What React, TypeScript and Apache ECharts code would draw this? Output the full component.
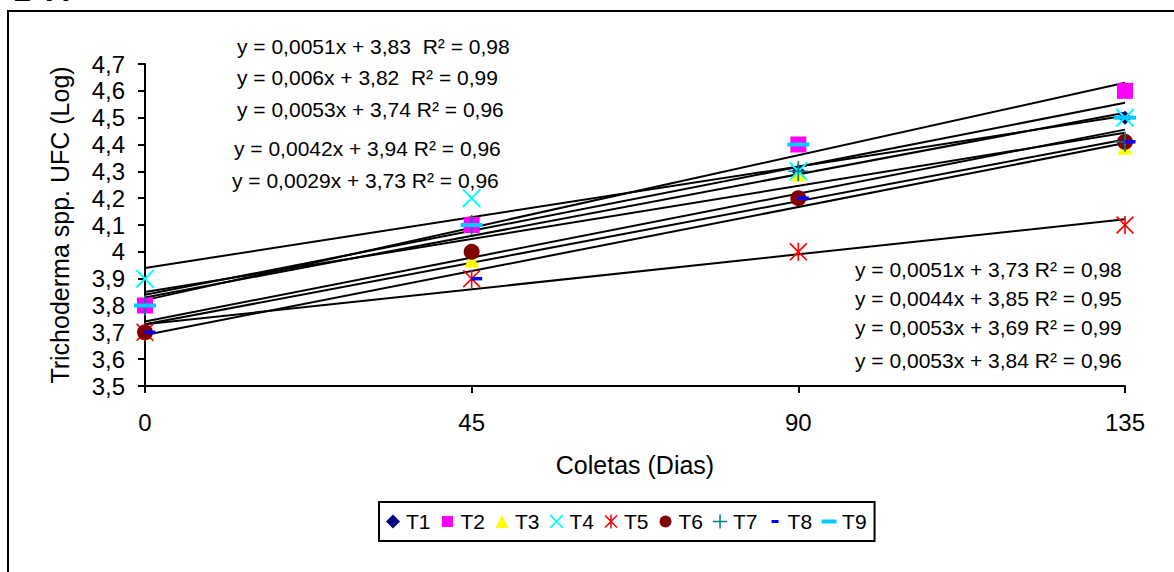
import React, { useEffect, useRef } from "react";
import * as echarts from "echarts";

// Sampling days (x) and log UFC counts for each treatment
const days = [0, 45, 90, 135];
const treatments = ["T1", "T2", "T3", "T4", "T5", "T6", "T7", "T8", "T9"];
const t1 = [3.8, 4.1, 4.3, 4.5];
const t2 = [3.8, 4.1, 4.4, 4.6];
const t3 = [3.7, 3.97, 4.29, 4.39];
const t4 = [3.9, 4.2, 4.3, 4.5];
const t5 = [3.7, 3.9, 4.0, 4.1];
const t6 = [3.7, 4.0, 4.2, 4.41];
const t7 = [3.8, 4.1, 4.3, 4.41];
const t8 = [3.7, 3.9, 4.2, 4.41];
const t9 = [3.8, 4.1, 4.4, 4.5];
const treatmentValues = [t1, t2, t3, t4, t5, t6, t7, t8, t9];

// Linear trendlines (y = a·x + b) and their R²
const trendSlopes = [0.0051, 0.006, 0.0053, 0.0042, 0.0029, 0.0051, 0.0044, 0.0053, 0.0053];
const trendIntercepts = [3.83, 3.82, 3.74, 3.94, 3.73, 3.73, 3.85, 3.69, 3.84];
const trendR2 = [0.98, 0.99, 0.96, 0.96, 0.96, 0.98, 0.95, 0.99, 0.96];

// Axis ranges
const yMin = 3.5;
const yMax = 4.7;
const yStep = 0.1;
const xMin = 0;
const xMax = 135;
const xStep = 45;

const FONT = "'Liberation Sans', Arial, sans-serif";

const colors = ["#000080", "#FF00FF", "#FFFF00", "#00FFFF", "#FF0000", "#800000", "#008080", "#0000FF", "#00CCFF"];

// Marker shapes drawn on the plot
const xMark = "path://M0,1.5L1.5,0L20,18.5L18.5,20Z M18.5,0L20,1.5L1.5,20L0,18.5Z";
const starMark = "path://M0,1.2L1.2,0L18,16.8L16.8,18Z M16.8,0L18,1.2L1.2,18L0,16.8Z M8.2,0H9.8V18H8.2Z";
const plusMark = "path://M9.25,0H10.75V20H9.25Z M1.5,9.25H18.5V10.75H1.5Z";

const markers: { symbol: string; size: number | number[]; offset?: number[] }[] = [
  { symbol: "diamond", size: 14 },
  { symbol: "rect", size: 16 },
  { symbol: "triangle", size: 15 },
  { symbol: xMark, size: 19 },
  { symbol: starMark, size: 18 },
  { symbol: "circle", size: 16 },
  { symbol: plusMark, size: 20 },
  { symbol: "rect", size: [11, 3.5], offset: [5, 0] },
  { symbol: "rect", size: [22, 4] },
];

// Legend icons, padded to a 16x16 box so each keeps its own size
const legendIcons = [
  "path://M0,0M16,16M8,1L15,8L8,15L1,8Z",
  "path://M0,0M16,16M2.5,2.5H13.5V13.5H2.5Z",
  "path://M0,0M16,16M8,1.5L14.5,14.5H1.5Z",
  "path://M0,0M16,16M1,2.3L2.3,1L15,13.7L13.7,15Z M13.7,1L15,2.3L2.3,15L1,13.7Z",
  "path://M0,0M16,16M1.5,2.6L2.6,1.5L14.5,13.4L13.4,14.5Z M13.4,1.5L14.5,2.6L2.6,14.5L1.5,13.4Z M7.25,1H8.75V15H7.25Z",
  "path://M0,0M16,16M2,8A6,6,0,1,1,14,8A6,6,0,1,1,2,8Z",
  "path://M0,0M16,16M7.25,1H8.75V15H7.25Z M1,7.25H15V8.75H1Z",
  "path://M0,0M16,16M5,6.5H12V9.5H5Z",
  "path://M0,0M16,16M0.5,6H15.5V10H0.5Z",
];

// Where each trendline equation is written (left x, middle y)
const equationSpots = [
  [237, 46], [237, 77], [237, 109], [234, 148], [232, 180],
  [855, 269], [855, 298], [855, 327], [855, 360],
];

const comma = (v: number) => String(v).replace(".", ",");

function equationText(i: number) {
  const gap = i < 2 ? "  " : " ";
  return `y = ${comma(trendSlopes[i])}x + ${comma(trendIntercepts[i])}${gap}R² = ${comma(trendR2[i])}`;
}

export default function App() {
  const ref = useRef<HTMLDivElement>(null);

  useEffect(() => {
    if (!ref.current) return;
    const chart = echarts.init(ref.current, undefined, { renderer: "svg" });

    const trendSeries = treatments.map((name, i) => ({
      name: name + " trend",
      type: "line",
      data: [
        [xMin, trendIntercepts[i]],
        [xMax, trendIntercepts[i] + trendSlopes[i] * xMax],
      ],
      symbol: "none",
      silent: true,
      z: 1,
      lineStyle: { color: "#000", width: 2 },
    }));

    const pointSeries = treatments.map((name, i) => ({
      name,
      type: "scatter",
      data: days.map((d, k) => [d, treatmentValues[i][k]]),
      symbol: markers[i].symbol,
      symbolSize: markers[i].size,
      symbolOffset: markers[i].offset || [0, 0],
      z: 2 + i,
      itemStyle: { color: colors[i], opacity: 1 },
    }));

    const graphics: any[] = [
      {
        type: "rect",
        silent: true,
        shape: { x: 8, y: 11, width: 1300, height: 700 },
        style: { fill: "none", stroke: "#000", lineWidth: 2 },
      },
      {
        type: "text",
        x: 13,
        y: 6,
        style: { text: "1", font: `bold 32px ${FONT}`, fill: "#000", verticalAlign: "bottom" },
      },
      {
        type: "text",
        x: 46,
        y: 6,
        style: { text: "A", font: `bold 32px ${FONT}`, fill: "#000", verticalAlign: "bottom" },
      },
      ...equationSpots.map((p, i) => ({
        type: "text",
        x: p[0],
        y: p[1],
        style: {
          text: equationText(i),
          font: `21px ${FONT}`,
          fill: "#000",
          verticalAlign: "middle",
          align: "left",
        },
      })),
    ];

    chart.setOption({
      animation: false,
      backgroundColor: "#fff",
      textStyle: { fontFamily: FONT },
      grid: { left: 145, right: 49, top: 64, bottom: 186, containLabel: false },
      xAxis: {
        type: "value",
        min: xMin,
        max: xMax,
        interval: xStep,
        name: "Coletas (Dias)",
        nameLocation: "middle",
        nameGap: 66,
        nameTextStyle: { fontSize: 25, color: "#000", fontFamily: FONT },
        axisLine: { lineStyle: { color: "#000", width: 2 } },
        axisTick: { show: true, length: 7, lineStyle: { color: "#000", width: 2 } },
        axisLabel: { fontSize: 24, color: "#000", margin: 24, fontFamily: FONT },
        splitLine: { show: false },
      },
      yAxis: {
        type: "value",
        min: yMin,
        max: yMax,
        interval: yStep,
        name: "Trichoderma spp. UFC (Log)",
        nameLocation: "middle",
        nameGap: 73,
        nameTextStyle: { fontSize: 25, color: "#000", fontFamily: FONT },
        axisLine: { show: true, lineStyle: { color: "#000", width: 2 } },
        axisTick: { show: true, length: 7, lineStyle: { color: "#000", width: 2 } },
        axisLabel: {
          fontSize: 24,
          color: "#000",
          margin: 20,
          fontFamily: FONT,
          formatter: (v: number) => comma(Math.round(v * 10) / 10),
        },
        splitLine: { show: false },
      },
      legend: {
        data: treatments.map((name, i) => ({ name, icon: legendIcons[i] })),
        left: 379,
        top: 502,
        orient: "horizontal",
        itemWidth: 16,
        itemHeight: 16,
        itemGap: 9,
        padding: [9, 8, 9, 6],
        borderColor: "#000",
        borderWidth: 2,
        textStyle: { fontSize: 21, color: "#000", fontFamily: FONT },
      },
      series: [...trendSeries, ...pointSeries],
      graphic: graphics,
    });

    return () => chart.dispose();
  }, []);

  return (
    <div
      ref={ref}
      style={{ position: "fixed", left: 0, top: 0, width: 1174, height: 572, background: "#fff" }}
    />
  );
}
